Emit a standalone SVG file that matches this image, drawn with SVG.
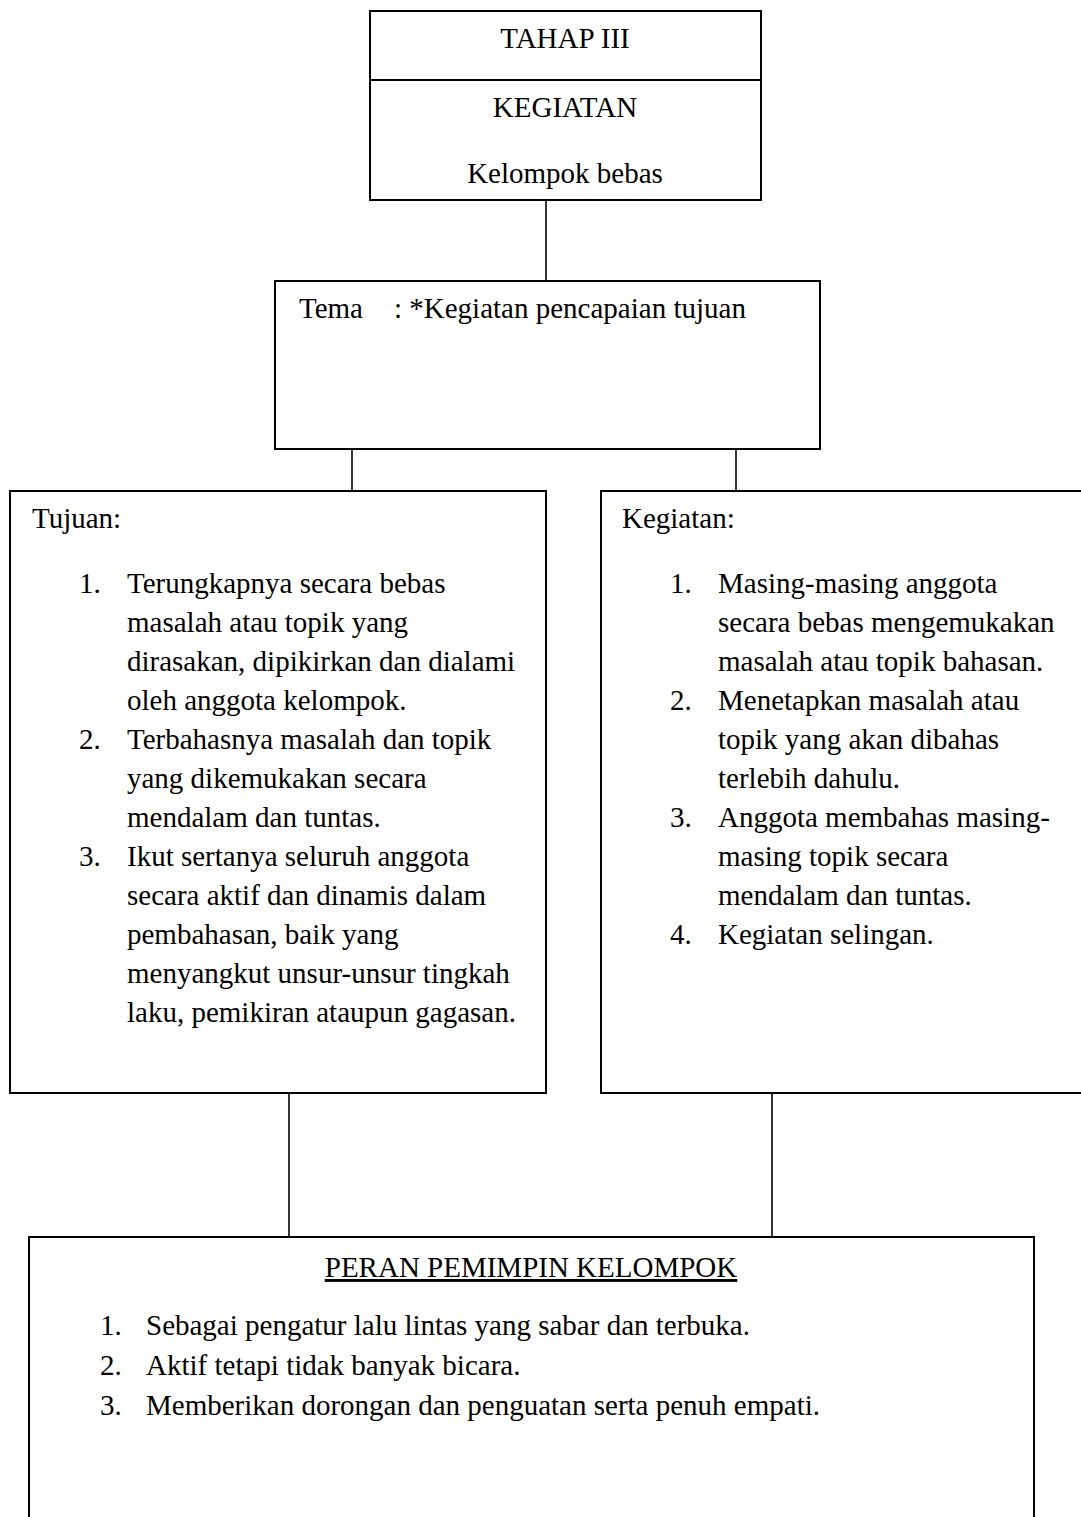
<svg xmlns="http://www.w3.org/2000/svg" width="1081" height="1517" viewBox="0 0 1081 1517">
<style>
.box{fill:#fff;stroke:#000;stroke-width:2}
.ln{stroke:#000;stroke-width:1.6;fill:none}
text{font-family:"Liberation Serif","Times New Roman",serif;font-size:29px;fill:#000}
.c{text-anchor:middle}
</style>
<rect width="1081" height="1517" fill="#fff"/>
<g id="connectors">
<line class="ln" x1="546" y1="200" x2="546" y2="281"/>
<line class="ln" x1="352" y1="449" x2="352" y2="491"/>
<line class="ln" x1="736" y1="449" x2="736" y2="491"/>
<line class="ln" x1="289" y1="1093" x2="289" y2="1237"/>
<line class="ln" x1="772" y1="1093" x2="772" y2="1237"/>
</g>
<g id="tahap">
<rect class="box" x="370" y="11" width="391" height="189"/>
<line class="box" x1="370" y1="80" x2="761" y2="80"/>
<text class="c" x="565" y="48">TAHAP III</text>
<text class="c" x="565" y="117">KEGIATAN</text>
<text class="c" x="565" y="183">Kelompok bebas</text>
</g>
<g id="tema">
<rect class="box" x="275" y="281" width="545" height="168"/>
<text x="299" y="318">Tema</text>
<text x="394" y="318">: *Kegiatan pencapaian tujuan</text>
</g>
<g id="tujuan">
<rect class="box" x="10" y="491" width="536" height="602"/>
<text x="32" y="528">Tujuan:</text>
<text x="79" y="593">1.</text>
<text x="127" y="593">Terungkapnya secara bebas</text>
<text x="127" y="632">masalah atau topik yang</text>
<text x="127" y="671">dirasakan, dipikirkan dan dialami</text>
<text x="127" y="710">oleh anggota kelompok.</text>
<text x="79" y="749">2.</text>
<text x="127" y="749">Terbahasnya masalah dan topik</text>
<text x="127" y="788">yang dikemukakan secara</text>
<text x="127" y="827">mendalam dan tuntas.</text>
<text x="79" y="866">3.</text>
<text x="127" y="866">Ikut sertanya seluruh anggota</text>
<text x="127" y="905">secara aktif dan dinamis dalam</text>
<text x="127" y="944">pembahasan, baik yang</text>
<text x="127" y="983">menyangkut unsur-unsur tingkah</text>
<text x="127" y="1022">laku, pemikiran ataupun gagasan.</text>
</g>
<g id="kegiatan">
<rect class="box" x="601" y="491" width="490" height="602"/>
<text x="622" y="528">Kegiatan:</text>
<text x="670" y="593">1.</text>
<text x="718" y="593">Masing-masing anggota</text>
<text x="718" y="632">secara bebas mengemukakan</text>
<text x="718" y="671">masalah atau topik bahasan.</text>
<text x="670" y="710">2.</text>
<text x="718" y="710">Menetapkan masalah atau</text>
<text x="718" y="749">topik yang akan dibahas</text>
<text x="718" y="788">terlebih dahulu.</text>
<text x="670" y="827">3.</text>
<text x="718" y="827">Anggota membahas masing-</text>
<text x="718" y="866">masing topik secara</text>
<text x="718" y="905">mendalam dan tuntas.</text>
<text x="670" y="944">4.</text>
<text x="718" y="944">Kegiatan selingan.</text>
</g>
<g id="peran">
<rect class="box" x="29" y="1237" width="1005" height="300"/>
<text class="c" x="531" y="1277" text-decoration="underline">PERAN PEMIMPIN KELOMPOK</text>
<text x="100" y="1335">1.</text>
<text x="146" y="1335">Sebagai pengatur lalu lintas yang sabar dan terbuka.</text>
<text x="100" y="1375">2.</text>
<text x="146" y="1375">Aktif tetapi tidak banyak bicara.</text>
<text x="100" y="1415">3.</text>
<text x="146" y="1415">Memberikan dorongan dan penguatan serta penuh empati.</text>
</g>
</svg>
